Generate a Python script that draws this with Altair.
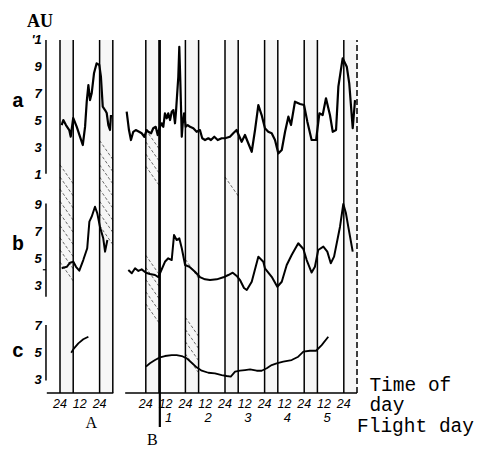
import altair as alt
import pandas as pd
import numpy as np

# ---------------- data (time in hours, values in AU) ----------------
# panel a
a_A_t = [1.0, 2.0, 3.6, 5.6, 6.5, 8.0, 10.1, 12.1, 13.8, 15.2, 16.2, 17.2, 18.2, 19.2,
         20.6, 22.2, 23.8, 24.8, 25.9, 27.3, 28.3, 29.3, 30.3, 30.9]
a_A_v = [4.70, 5.07, 4.70, 4.33, 3.84, 5.22, 4.58, 3.84, 3.22, 4.58, 6.43, 7.66, 6.55, 7.05,
         8.53, 9.27, 9.15, 8.28, 6.06, 5.81, 5.59, 4.70, 4.33, 5.44]
a_B_t = [40.4, 41.8, 43.0, 44.4, 45.9, 47.9, 49.5, 51.1, 52.5, 53.5, 55.2, 56.5, 58.0, 59.2,
         60.2, 61.6, 62.6, 63.6, 64.7, 65.6, 66.7, 67.7, 68.7, 69.7, 70.3, 70.9, 71.7, 72.3,
         72.9, 73.8, 74.4, 75.2, 76.2, 77.4, 78.8, 80.8, 82.8, 84.8, 86.2, 87.9, 89.9, 91.5,
         93.5, 95.6, 98.0, 100.0, 103.0, 105.0, 107.0, 110.1, 112.1, 114.1, 116.2, 118.2,
         120.2, 122.2, 124.2, 126.2, 128.3, 130.3, 132.3, 134.4, 136.4, 138.4, 140.0, 142.4,
         145.5, 147.9, 149.9, 152.5, 155.2, 157.2, 159.2, 161.2, 163.6, 165.3, 167.3, 168.7,
         171.3, 173.8, 175.3, 177.4, 178.8]
a_B_v = [5.69, 4.33, 3.59, 4.20, 4.33, 4.20, 4.09, 3.83, 4.33, 4.20, 4.09, 4.46, 4.57, 3.96,
         4.46, 4.83, 4.57, 5.57, 5.20, 5.57, 5.07, 5.69, 5.81, 4.83, 5.69, 6.80, 8.28, 10.50,
         8.03, 3.83, 4.83, 5.57, 4.57, 4.70, 4.57, 4.46, 4.20, 4.33, 3.72, 3.59, 3.72, 3.59,
         3.83, 3.59, 3.72, 3.72, 3.83, 4.09, 4.33, 3.46, 3.96, 3.35, 2.72, 4.33,
         6.18, 5.44, 4.46, 4.20, 4.09, 3.59, 2.60, 2.85, 4.20, 5.32, 4.70, 6.43,
         6.26, 6.18, 4.95, 3.59, 3.59, 5.57, 5.44, 6.68, 5.44, 4.20, 4.33, 7.54,
         9.64, 9.02, 7.79, 4.46, 6.55]
# panel b
b_A_t = [1.0, 4.1, 6.1, 8.1, 9.7, 11.7, 14.1, 16.5, 17.8, 19.2, 21.2, 22.6, 24.2, 26.2, 27.3, 28.7]
b_A_v = [4.31, 4.42, 4.72, 4.79, 4.42, 4.13, 4.92, 5.79, 7.76, 8.13, 8.87, 8.38, 7.39, 6.53, 5.54, 6.40]
b_B_t = [41.4, 43.5, 45.5, 47.5, 49.5, 52.1, 54.5, 57.6, 59.6, 61.0, 63.6, 65.6, 67.7, 69.1,
         70.7, 72.3, 73.8, 75.8, 78.4, 81.8, 84.8, 87.9, 90.9, 95.0, 99.0, 102.0, 104.7, 107.1,
         109.1, 111.5, 113.2, 116.2, 120.2, 123.2, 124.2, 128.3, 131.7, 134.4, 137.4, 140.4,
         144.4, 147.5, 149.5, 152.5, 154.5, 156.5, 159.6, 162.0, 164.1, 166.1, 169.7, 171.7,
         173.3, 174.7, 177.4]
b_B_v = [4.18, 3.94, 4.31, 4.11, 4.23, 3.98, 3.88, 3.81, 3.66, 4.05, 4.79, 5.05, 4.92, 6.77,
         6.40, 6.53, 5.79, 4.55, 4.42, 4.05, 3.66, 3.49, 3.44, 3.49, 3.64, 3.81, 3.98, 3.74,
         3.44, 2.85, 2.70, 3.31, 5.17, 4.79, 4.31, 3.68, 2.94, 3.31, 4.55, 5.29,
         6.16, 5.74, 4.92, 3.99, 4.42, 5.66, 5.91, 5.54, 4.68, 5.17, 7.39, 9.07,
         8.38, 7.39, 5.54]
# panel c
c_A_t = [6.8, 8.5, 11.1, 14.1, 17.2]
c_A_v = [5.05, 5.38, 5.75, 6.05, 6.24]
c_B_t = [52.1, 54.5, 57.6, 60.6, 63.6, 67.7, 70.7, 73.8, 76.8, 79.8, 82.8, 85.9, 89.9, 93.9,
         98.0, 101.0, 103.5, 106.1, 109.1, 112.1, 115.2, 119.2, 122.2, 125.3, 128.3, 131.3,
         135.3, 140.4, 144.4, 147.5, 151.5, 155.2, 158.6, 162.6]
c_B_v = [4.02, 4.27, 4.51, 4.71, 4.81, 4.88, 4.88, 4.81, 4.64, 4.31, 3.97, 3.72, 3.57, 3.53,
         3.40, 3.33, 3.28, 3.65, 3.72, 3.77, 3.82, 3.72, 3.72, 3.90, 4.14, 4.27,
         4.39, 4.51, 4.76, 5.13, 5.20, 5.20, 5.62, 6.24]

# sleep periods (start hour), each 8 h long
sleep_start = [0, 24, 52, 76, 100, 124, 148, 172]
sleep_len = 8

# tick labels
a_ticks = [1, 3, 5, 7, 9, 11]
a_tick_text = ["1", "3", "5", "7", "9", "'1"]
b_ticks = [3, 5, 7, 9]
c_ticks = [3, 5, 7]
time_ticks = [0, 12, 24, 52, 64, 76, 88, 100, 112, 124, 136, 148, 160, 172]
time_text = ["24", "12", "24", "24", "12", "24", "12", "24", "12", "24", "12", "24", "12", "24"]
day_ticks = [64, 88, 112, 136, 160]
day_text = ["1", "2", "3", "4", "5"]

# ---------------- layout helpers ----------------
OFF = {"a": 15.15, "b": 4.93, "c": -2.07}     # vertical stacking of panels
TOP = 26.15
XS = alt.Scale(domain=[-31.52, 258.18], nice=False, zero=False)
YS = alt.Scale(domain=[-4.222, 28.519], nice=False, zero=False)

def X(f):
    return alt.X(f, type="quantitative", scale=XS, axis=None)

def Y(f):
    return alt.Y(f, type="quantitative", scale=YS, axis=None)

rows = []
for panel, seg, ts, vs in [("a", "A", a_A_t, a_A_v), ("a", "B", a_B_t, a_B_v),
                           ("b", "A", b_A_t, b_A_v), ("b", "B", b_B_t, b_B_v),
                           ("c", "A", c_A_t, c_A_v), ("c", "B", c_B_t, c_B_v)]:
    for i, (t, v) in enumerate(zip(ts, vs)):
        rows.append({"t": t, "p": v + OFF[panel], "key": panel + seg, "panel": panel, "i": i})
curves = pd.DataFrame(rows)

bands = pd.DataFrame({"s": sleep_start, "e": [s + sleep_len for s in sleep_start],
                      "lo": 0.0, "hi": TOP})

# hatch zones: band start, top, bottom (stacked units)
hatch_zones = [(0, 16.9, 7.6), (24, 18.7, 10.2), (52, 19.5, 15.4), (52, 10.2, 4.7),
               (76, 9.9, 8.4), (76, 5.6, 1.5), (100, 16.0, 14.3), (100, 1.9, 0.9)]
hrows = []
for s, top, bot in hatch_zones:
    for p in np.arange(top, bot + 1.3, -0.9):
        hrows.append({"x": s, "x2": s + sleep_len, "y": p, "y2": p - 1.4})
hatch = pd.DataFrame(hrows)

edges = sorted(set(sleep_start + [s + sleep_len for s in sleep_start]))
vlines = pd.DataFrame({"t": edges, "lo": 0.0, "hi": TOP,
                       "dash": ["d" if e == edges[-1] else "s" for e in edges]})

bline = pd.DataFrame({"t": [60.5], "lo": [-2.52], "hi": [TOP]})

yaxes = pd.DataFrame({"t": [-8.5] * 3,
                      "lo": [1.1 + OFF["a"], 2.2 + OFF["b"], 3.0 + OFF["c"]],
                      "hi": [11.0 + OFF["a"], 9.1 + OFF["b"], 7.1 + OFF["c"]]})
btick = pd.DataFrame({"x": [-10.4], "x2": [-8.5], "y": [4.2 + OFF["b"]]})
xaxis = pd.DataFrame({"x": [-8.0, 39.5], "x2": [32.3, 180.0], "y": [0.0, 0.0]})

ylab = pd.DataFrame(
    [{"t": -11.0, "p": v + OFF["a"], "text": s} for v, s in zip(a_ticks, a_tick_text)] +
    [{"t": -11.0, "p": v + OFF["b"], "text": str(v)} for v in b_ticks] +
    [{"t": -11.0, "p": v + OFF["c"], "text": str(v)} for v in c_ticks])
xlab = pd.DataFrame({"t": time_ticks, "p": -1.11, "text": time_text})
dlab = pd.DataFrame({"t": day_ticks, "p": -2.15, "text": day_text})
letters = pd.DataFrame({"t": [-25.5, -25.5, -25.5], "p": [21.19, 10.59, 2.67],
                        "text": ["a", "b", "c"]})
au = pd.DataFrame({"t": [-12.1], "p": [27.11], "text": ["AU"]})
segl = pd.DataFrame({"t": [19.0, 56.0], "p": [-2.59, -3.85], "text": ["A", "B"]})
rlab = pd.DataFrame({"t": [187.5, 187.5, 180.0], "p": [0.15, -1.37, -2.89],
                     "text": ["Time of", "day", "Flight day"]})

# ---------------- layers ----------------
band_l = alt.Chart(bands).mark_rect(fill="#f6f6f6", stroke=None).encode(
    x=X("s"), x2="e", y=Y("lo"), y2="hi")
hatch_l = alt.Chart(hatch).mark_rule(color="#444", strokeWidth=0.8, strokeDash=[3, 2]).encode(
    x=X("x"), x2="x2", y=Y("y"), y2="y2")
vl_l = alt.Chart(vlines).mark_rule(color="black", strokeWidth=1.5).encode(
    x=X("t"), y=Y("lo"), y2="hi",
    strokeDash=alt.StrokeDash("dash:N", scale=alt.Scale(domain=["s", "d"], range=[[1, 0], [6, 3]]),
                              legend=None))
bl_l = alt.Chart(bline).mark_rule(color="black", strokeWidth=2.2).encode(
    x=X("t"), y=Y("lo"), y2="hi")
ya_l = alt.Chart(yaxes).mark_rule(color="black", strokeWidth=1.5).encode(
    x=X("t"), y=Y("lo"), y2="hi")
bt_l = alt.Chart(btick).mark_rule(color="black", strokeWidth=1.2).encode(
    x=X("x"), x2="x2", y=Y("y"))
xa_l = alt.Chart(xaxis).mark_rule(color="black", strokeWidth=1.5).encode(
    x=X("x"), x2="x2", y=Y("y"))
curve_l = alt.Chart(curves).mark_line(color="black", strokeJoin="round").encode(
    x=X("t"), y=Y("p"), detail="key:N", order="i:Q",
    strokeWidth=alt.StrokeWidth("panel:N", scale=alt.Scale(domain=["a", "b", "c"],
                                                           range=[2.2, 1.8, 1.5]), legend=None))

ylab_l = alt.Chart(ylab).mark_text(align="right", baseline="middle", font="Liberation Sans",
                                   fontStyle="italic", fontSize=13, fontWeight="bold").encode(
    x=X("t"), y=Y("p"), text="text:N")
xlab_l = alt.Chart(xlab).mark_text(align="center", baseline="alphabetic", font="Liberation Sans",
                                   fontStyle="italic", fontSize=12.5).encode(
    x=X("t"), y=Y("p"), text="text:N")
dlab_l = alt.Chart(dlab).mark_text(align="center", baseline="alphabetic", font="Liberation Sans",
                                   fontStyle="italic", fontSize=13, dx=3).encode(
    x=X("t"), y=Y("p"), text="text:N")
let_l = alt.Chart(letters).mark_text(align="center", baseline="alphabetic", font="Liberation Mono",
                                     fontSize=20, fontWeight="bold").encode(
    x=X("t"), y=Y("p"), text="text:N")
au_l = alt.Chart(au).mark_text(align="center", baseline="alphabetic", font="Liberation Serif",
                               fontWeight="bold", fontSize=18).encode(x=X("t"), y=Y("p"), text="text:N")
seg_l = alt.Chart(segl).mark_text(align="center", baseline="alphabetic", font="Liberation Serif",
                                  fontSize=16).encode(x=X("t"), y=Y("p"), text="text:N")
r_l = alt.Chart(rlab).mark_text(align="left", baseline="alphabetic", font="Liberation Mono",
                                fontSize=19.5).encode(x=X("t"), y=Y("p"), text="text:N")

chart = alt.layer(band_l, hatch_l, vl_l, bl_l, ya_l, bt_l, xa_l, curve_l,
                  ylab_l, xlab_l, dlab_l, let_l, au_l, seg_l, r_l).properties(
    width=478, height=442, padding=0,
    autosize=alt.AutoSizeParams(type="none"),
    background="white",
).configure_view(stroke=None)

chart.save("out.html", embed_options={"renderer": "svg", "actions": False})
